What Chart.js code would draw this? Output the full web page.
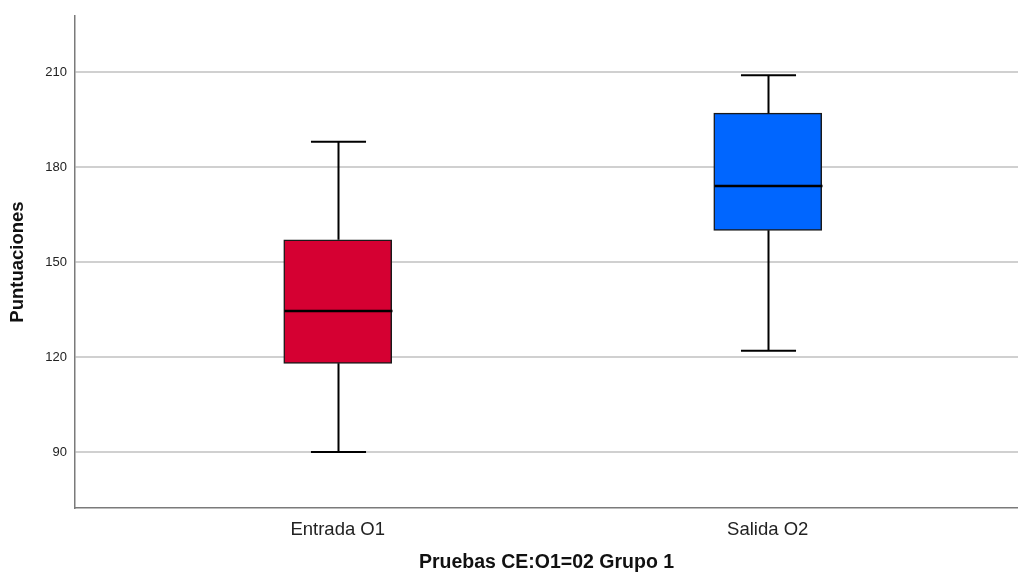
<!DOCTYPE html>
<html>
<head>
<meta charset="utf-8">
<script src="https://cdn.jsdelivr.net/npm/chart.js@4/dist/chart.umd.min.js"></script>
<style>
  html, body { margin: 0; padding: 0; background: #ffffff; }
  #wrap { width: 1018px; height: 572px; }
</style>
</head>
<body>
<div id="wrap"><canvas id="c" width="1018" height="572"></canvas></div>
<script>
// Box-plot summary per test (scores)
const categories = ['Entrada O1', 'Salida O2'];
const mins    = [90, 122];
const q1s     = [118, 160];
const medians = [134.5, 174];
const q3s     = [157, 197];
const maxs    = [188, 209];
const yTicks  = [90, 120, 150, 180, 210];
const boxColors = ['#D50032', '#0066FF'];

const FONT = "'Liberation Sans', Arial, Helvetica, sans-serif";
const BOX_WIDTH = 108;

// Whiskers, caps and medians drawn on top of the floating bars
const boxExtras = {
  id: 'boxExtras',
  afterDatasetsDraw(chart) {
    const ctx = chart.ctx;
    const xs = chart.scales.x, ys = chart.scales.y;
    ctx.save();
    ctx.strokeStyle = '#000000';
    ctx.lineCap = 'butt';
    categories.forEach((c, i) => {
      const cx = Math.round(xs.getPixelForValue(i + 1)) + 0.5;
      const half = BOX_WIDTH / 2;
      const cap = BOX_WIDTH * 0.255;
      const yMin = ys.getPixelForValue(mins[i]);
      const yQ1 = ys.getPixelForValue(q1s[i]);
      const yMed = ys.getPixelForValue(medians[i]);
      const yQ3 = ys.getPixelForValue(q3s[i]);
      const yMax = ys.getPixelForValue(maxs[i]);
      ctx.lineWidth = 2;
      ctx.beginPath();
      ctx.moveTo(cx, yQ3); ctx.lineTo(cx, yMax);
      ctx.moveTo(cx, yQ1); ctx.lineTo(cx, yMin);
      ctx.moveTo(cx - cap, yMax); ctx.lineTo(cx + cap, yMax);
      ctx.moveTo(cx - cap, yMin); ctx.lineTo(cx + cap, yMin);
      ctx.stroke();
      ctx.lineWidth = 2.5;
      ctx.beginPath();
      ctx.moveTo(cx - half, yMed); ctx.lineTo(cx + half, yMed);
      ctx.stroke();
    });
    ctx.restore();
  }
};

new Chart(document.getElementById('c'), {
  type: 'bar',
  data: {
    datasets: [{
      data: categories.map((c, i) => ({ x: i + 1, y: [q1s[i], q3s[i]] })),
      backgroundColor: boxColors,
      borderColor: '#1a1a1a',
      borderWidth: 1.5,
      borderSkipped: false,
      barThickness: BOX_WIDTH
    }]
  },
  options: {
    responsive: false,
    animation: false,
    layout: { padding: { top: 16, right: 0, left: 0, bottom: 0 } },
    plugins: { legend: { display: false }, tooltip: { enabled: false } },
    scales: {
      x: {
        type: 'linear',
        offset: false,
        min: 0.389,
        max: 2.582,
        afterBuildTicks(s) { s.ticks = categories.map((c, i) => ({ value: i + 1 })); },
        afterFit(s) { s.height = 64; },
        grid: { display: false, drawTicks: false, offset: false },
        border: { display: true, color: '#7a7a7a', width: 1.5 },
        ticks: {
          callback: (v) => categories[v - 1],
          color: '#222222',
          font: { family: FONT, size: 18.5 },
          padding: 11,
          maxRotation: 0
        },
        title: {
          display: true,
          text: 'Pruebas CE:O1=02 Grupo 1',
          color: '#111111',
          font: { family: FONT, size: 19.5, weight: 'bold', lineHeight: 1 },
          padding: { top: 0, bottom: 0 }
        }
      },
      y: {
        min: 72.3,
        max: 227.7,
        afterBuildTicks(s) { s.ticks = yTicks.map(v => ({ value: v })); },
        afterFit(s) { s.width = 75; },
        grid: { color: '#d0d0d0', lineWidth: 2, drawTicks: false },
        border: { display: true, color: '#7a7a7a', width: 1.5 },
        ticks: {
          color: '#222222',
          font: { family: FONT, size: 13 },
          padding: 8
        },
        title: {
          display: true,
          text: 'Puntuaciones',
          color: '#111111',
          font: { family: FONT, size: 18.5, weight: 'bold', lineHeight: 1 },
          padding: { top: 9, bottom: 0 }
        }
      }
    }
  },
  plugins: [boxExtras]
});
</script>
</body>
</html>
